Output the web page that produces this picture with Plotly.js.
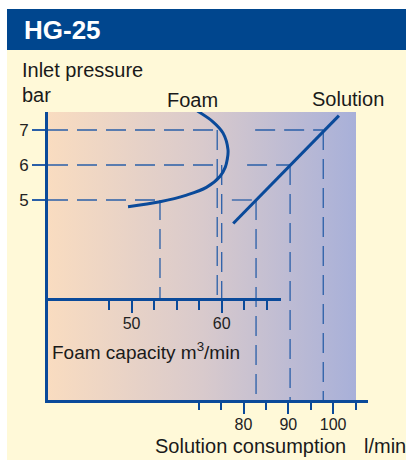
<!DOCTYPE html>
<html>
<head>
<meta charset="utf-8">
<script src="https://cdn.plot.ly/plotly-3.0.1.min.js"></script>
<style>html,body{margin:0;padding:0;background:#fff;}#chart{width:406px;height:460px;}</style>
</head>
<body>
<div id="chart"></div>
<script>
// ---- data ----
const pressureTicks = [5, 6, 7];                       // bar
const foamCurvePressure = [7.54, 7.24, 6.91, 6.43, 6.14, 5.94, 5.67, 5.36, 5.14, 4.95, 4.81];
const foamCurveCapacity = [57.3, 59.0, 60.15, 60.7, 60.6, 60.4, 59.8, 58.3, 56.1, 53.15, 49.6];
const solLinePressure = [4.33, 7.41];
const solLineConsumption = [77.7, 101.3];
const foamAtPressure = [53.15, 60.0, 59.5];            // foam capacity at 5, 6, 7 bar
const solAtPressure = [82.8, 90.4, 97.8];              // solution l/min at 5, 6, 7 bar
const solGuideFrom = [77.4, 80.8, 82.6];               // where the horizontal solution guides start
const foamMajorTicks = [50, 60];
const foamMinorTicks = [47.5, 52.5, 55, 57.5, 62.5, 65];
const solMajorTicks = [80, 90, 100];
const solMinorTicks = [70, 75, 85, 95, 105];

// ---- layout geometry ----
const W = 406, H = 460;
const px = v => v / W, py = v => 1 - v / H;
const solRange = [36.36, 107.79];
const foamRange = [40.72, 66.58];
const presRange = [-0.714, 7.514];
const foamAxisPressure = 5 - (299 - 200) / 35;
const bgRight = 80 + (356 - 243.5) / 4.48;   // right edge of the shaded panel (solution scale)
const bgTop = 5 + (200 - 111) / 35;

const FONT = "'Liberation Sans', Arial, sans-serif";
const dark = '#0a4a9a';
const dashCol = '#2a5fa8';
const dashStyle = '20px,9px';

// guide lines
const fgx = [], fgy = [], sgx = [], sgy = [];
pressureTicks.forEach((p, i) => {
  fgx.push(foamRange[0], foamAtPressure[i], null, foamAtPressure[i], foamAtPressure[i], null);
  fgy.push(p, p, null, p, foamAxisPressure, null);
  sgx.push(solGuideFrom[i], solAtPressure[i], null, solAtPressure[i], solAtPressure[i], null);
  sgy.push(p, p, null, p, presRange[0], null);
});

const traces = [
  // shaded panel background
  {x: [solRange[0], bgRight, bgRight, solRange[0], solRange[0]],
   y: [presRange[0], presRange[0], bgTop, bgTop, presRange[0]],
   xaxis: 'x', yaxis: 'y', mode: 'lines', fill: 'toself', hoverinfo: 'skip',
   line: {width: 0, color: 'rgba(0,0,0,0)'},
   fillgradient: {type: 'horizontal', colorscale: [[0, '#f9dcc0'], [0.5, '#d9cacc'], [1, '#a8b0d9']]}},
  {x: sgx, y: sgy, xaxis: 'x', yaxis: 'y', mode: 'lines', hoverinfo: 'skip',
   line: {color: dashCol, width: 1.3, dash: dashStyle}},
  {x: solLineConsumption, y: solLinePressure, xaxis: 'x', yaxis: 'y', mode: 'lines',
   line: {color: dark, width: 3}},
  {x: fgx, y: fgy, xaxis: 'x2', yaxis: 'y', mode: 'lines', hoverinfo: 'skip',
   line: {color: dashCol, width: 1.3, dash: dashStyle}},
  {x: foamCurveCapacity, y: foamCurvePressure, xaxis: 'x2', yaxis: 'y', mode: 'lines',
   line: {color: dark, width: 3, shape: 'spline'}}
];

const tickFont = {family: FONT, size: 16, color: '#222'};
const labFont = {family: FONT, size: 20, color: '#1a1a1a'};

const layout = {
  width: W, height: H,
  margin: {l: 0, r: 0, t: 0, b: 0, pad: 0},
  paper_bgcolor: '#fff9d8',
  plot_bgcolor: 'rgba(0,0,0,0)',
  showlegend: false,
  title: {text: '<b>HG-25</b>', x: px(24), xanchor: 'left', xref: 'paper', y: py(30), yanchor: 'middle', yref: 'paper',
          font: {family: FONT, size: 26, color: '#ffffff'}},
  xaxis: {domain: [px(48), px(368)], range: solRange, anchor: 'y',
          showline: true, linecolor: dark, linewidth: 3, showgrid: false, zeroline: false,
          tickmode: 'array', tickvals: solMajorTicks, ticks: 'outside', ticklen: 11, tickwidth: 2, tickcolor: dark,
          tickfont: tickFont, ticklabelstandoff: -3,
          minor: {tickmode: 'array', tickvals: solMinorTicks, ticks: 'outside', ticklen: 7, tickwidth: 2, tickcolor: dark}},
  xaxis2: {domain: [px(48), px(281)], range: foamRange, anchor: 'free', position: py(299),
          showline: true, linecolor: dark, linewidth: 3, showgrid: false, zeroline: false,
          tickmode: 'array', tickvals: foamMajorTicks, ticks: 'outside', ticklen: 12, tickwidth: 2, tickcolor: dark,
          tickfont: tickFont, ticklabelstandoff: -3,
          minor: {tickmode: 'array', tickvals: foamMinorTicks, ticks: 'outside', ticklen: 9, tickwidth: 2, tickcolor: dark}},
  yaxis: {domain: [py(400), py(112)], range: presRange, anchor: 'x',
          showline: true, linecolor: dark, linewidth: 3, showgrid: false, zeroline: false,
          tickmode: 'array', tickvals: pressureTicks, ticks: 'outside', ticklen: 13, tickwidth: 1.5, tickcolor: dashCol,
          tickfont: {family: FONT, size: 17, color: '#222'}, ticklabelstandoff: 0},
  shapes: [
    {type: 'rect', xref: 'paper', yref: 'paper', x0: 0, x1: 1, y0: py(9), y1: 1, fillcolor: '#ffffff', line: {width: 0}, layer: 'below'},
    {type: 'rect', xref: 'paper', yref: 'paper', x0: 0, x1: px(7), y0: 0, y1: 1, fillcolor: '#ffffff', line: {width: 0}, layer: 'below'},
    {type: 'rect', xref: 'paper', yref: 'paper', x0: px(7), x1: 1, y0: py(50), y1: py(9), fillcolor: '#00468e', line: {width: 0}, layer: 'below'}
  ],
  annotations: [
    {text: 'Inlet pressure', x: px(20), y: py(70), xref: 'paper', yref: 'paper', xanchor: 'left', yanchor: 'middle', showarrow: false, font: labFont},
    {text: 'bar', x: px(20), y: py(95), xref: 'paper', yref: 'paper', xanchor: 'left', yanchor: 'middle', showarrow: false, font: labFont},
    {text: 'Foam', x: px(165), y: py(100), xref: 'paper', yref: 'paper', xanchor: 'left', yanchor: 'middle', showarrow: false, font: labFont},
    {text: 'Solution', x: px(310), y: py(99), xref: 'paper', yref: 'paper', xanchor: 'left', yanchor: 'middle', showarrow: false, font: labFont},
    {text: 'Foam capacity m<sup>3</sup>/min', x: px(50), y: py(351), xref: 'paper', yref: 'paper', xanchor: 'left', yanchor: 'middle', showarrow: false, font: {family: FONT, size: 19, color: '#1a1a1a'}},
    {text: 'Solution consumption', x: px(153), y: py(446), xref: 'paper', yref: 'paper', xanchor: 'left', yanchor: 'middle', showarrow: false, font: labFont},
    {text: 'l/min', x: px(362), y: py(446), xref: 'paper', yref: 'paper', xanchor: 'left', yanchor: 'middle', showarrow: false, font: labFont}
  ]
};

Plotly.newPlot('chart', traces, layout, {staticPlot: true, displayModeBar: false});
</script>
</body>
</html>
